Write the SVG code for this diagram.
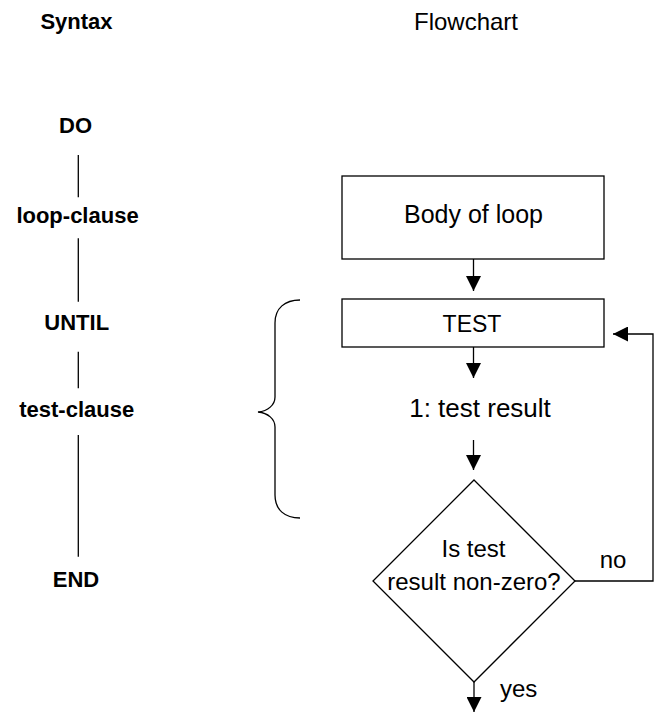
<svg xmlns="http://www.w3.org/2000/svg" width="654" height="713" viewBox="0 0 654 713">
<defs>
<style>
.t{font-family:"Liberation Sans",Arial,sans-serif;fill:#000;text-anchor:middle}
.syn{font-size:22px;font-weight:bold}
.fc{font-size:24px}
.ln{stroke:#000;stroke-width:1.3;fill:none}
.box{stroke:#000;stroke-width:1.3;fill:#fff}
</style>
<marker id="ah" viewBox="0 0 15 15" refX="15" refY="7.5" markerWidth="15" markerHeight="15" markerUnits="userSpaceOnUse" orient="auto">
<path d="M0,0 L15,7.5 L0,15 Z" fill="#000"/>
</marker>
</defs>
<rect width="654" height="713" fill="#fff"/>
<g id="headers">
<text class="t syn" x="76.5" y="28.5">Syntax</text>
<text class="t fc" x="466" y="29.5">Flowchart</text>
</g>
<g id="syntax">
<text id="s-do" class="t syn" x="75.5" y="132.7">DO</text>
<text id="s-loop" class="t syn" x="77.5" y="223.3">loop-clause</text>
<text id="s-until" class="t syn" x="76.7" y="330">UNTIL</text>
<text id="s-test" class="t syn" x="76.7" y="417.3">test-clause</text>
<text id="s-end" class="t syn" x="76" y="586.7">END</text>
<g class="ln" stroke-width="1">
<line x1="78.3" y1="155" x2="78.3" y2="197.3"/>
<line x1="78.3" y1="238.3" x2="78.3" y2="301.7"/>
<line x1="78.3" y1="351.7" x2="78.3" y2="388.3"/>
<line x1="78.3" y1="435" x2="78.3" y2="556.7"/>
</g>
</g>
<g id="brace">
<path class="ln" d="M300,300 C285,300 275,308 275,323 L275,397 C275,405 268,411 258,412 C268,413 275,419 275,427 L275,495 C275,510 285,518 300,518"/>
</g>
<g id="body">
<rect class="box" x="342" y="176" width="262" height="83"/>
<text class="t" style="font-size:25px" x="473.5" y="223">Body of loop</text>
</g>
<g id="test">
<rect class="box" x="342" y="299" width="262" height="48"/>
<text class="t" style="font-size:23px" x="472" y="332">TEST</text>
</g>
<g id="result">
<text class="t" style="font-size:26px" x="480" y="417">1: test result</text>
</g>
<g id="decision">
<polygon class="box" points="474,480 575,581 474,682 373,581"/>
<text class="t fc" x="473.5" y="557">Is test</text>
<text class="t fc" x="474" y="590">result non-zero?</text>
</g>
<g id="connectors">
<line class="ln" x1="473.5" y1="259" x2="473.5" y2="291" marker-end="url(#ah)"/>
<line class="ln" x1="473.5" y1="347" x2="473.5" y2="378" marker-end="url(#ah)"/>
<line class="ln" x1="473.5" y1="440" x2="473.5" y2="470" marker-end="url(#ah)"/>
<line class="ln" x1="474" y1="682" x2="474" y2="712" marker-end="url(#ah)"/>
<polyline class="ln" points="575,581 653,581 653,334 613,334" marker-end="url(#ah)"/>
<text class="t fc" x="613" y="568">no</text>
<text class="t fc" x="500" y="697" style="text-anchor:start">yes</text>
</g>
</svg>
